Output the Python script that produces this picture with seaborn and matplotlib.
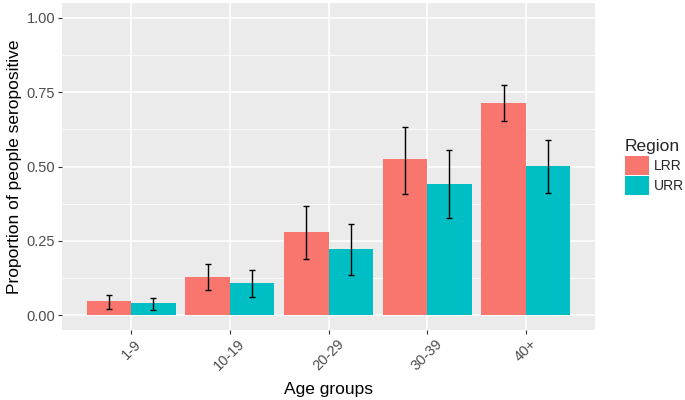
import pandas as pd
import numpy as np
import seaborn as sns
import matplotlib.pyplot as plt

age_groups = ["1-9", "10-19", "20-29", "30-39", "40+"]
regions = ["LRR", "URR"]
lrr_prop = [0.047, 0.128, 0.279, 0.525, 0.714]
lrr_low = [0.022, 0.084, 0.189, 0.408, 0.653]
lrr_high = [0.067, 0.172, 0.367, 0.633, 0.774]
urr_prop = [0.040, 0.108, 0.222, 0.441, 0.502]
urr_low = [0.017, 0.061, 0.135, 0.327, 0.410]
urr_high = [0.057, 0.152, 0.306, 0.556, 0.589]

df = pd.DataFrame({
    "age": age_groups * 2,
    "Region": ["LRR"] * 5 + ["URR"] * 5,
    "prop": lrr_prop + urr_prop,
    "low": lrr_low + urr_low,
    "high": lrr_high + urr_high,
})

sns.set_style("darkgrid", {"axes.facecolor": "#EBEBEB", "grid.color": "white"})
plt.rcParams["font.family"] = ["Liberation Sans", "DejaVu Sans"]

fig = plt.figure(figsize=(6.85, 4.0), dpi=100)
ax = fig.add_axes([62 / 685, 1 - 330 / 400, (595 - 62) / 685, 327 / 400])

sns.barplot(data=df, x="age", y="prop", hue="Region", order=age_groups,
            hue_order=regions, palette=["#F8766D", "#00BFC4"], width=0.9,
            saturation=1, errorbar=None, linewidth=0, ax=ax)

# error bars at the centre of each drawn bar
for cont, reg in zip(ax.containers, regions):
    sub = df[df["Region"] == reg].set_index("age").loc[age_groups]
    xs = [p.get_x() + p.get_width() / 2 for p in cont.patches]
    ax.errorbar(xs, sub["prop"], yerr=[sub["prop"] - sub["low"], sub["high"] - sub["prop"]],
                fmt="none", ecolor="black", elinewidth=1.0, capsize=2.5, capthick=1.0)

ax.set_xlim(-0.7, 4.7)
ax.set_ylim(-0.05, 1.05)
ax.set_yticks([0, 0.25, 0.5, 0.75, 1.0])
ax.set_yticklabels(["0.00", "0.25", "0.50", "0.75", "1.00"])
ax.set_yticks([0.125, 0.375, 0.625, 0.875], minor=True)
ax.xaxis.grid(True, color="white", linewidth=1.1)
ax.yaxis.grid(True, which="major", color="white", linewidth=1.1)
ax.yaxis.grid(True, which="minor", color="white", linewidth=0.55)
ax.set_axisbelow(True)
for s in ax.spines.values():
    s.set_visible(False)

ax.tick_params(axis="both", which="major", length=3, width=0.8, color="#333333",
               labelcolor="#4D4D4D", labelsize=10.5, pad=2, bottom=True, left=True)
ax.tick_params(axis="y", which="minor", length=0)
plt.setp(ax.get_xticklabels(), rotation=45, ha="center")

ax.set_xlabel("Age groups", fontsize=12.5, color="black", labelpad=6)
ax.set_ylabel("Proportion of people seropositive", fontsize=12.5, color="black", labelpad=3)

ax.legend(title="Region", loc="center left", bbox_to_anchor=(618 / 685, 1 - 167 / 400),
          bbox_transform=fig.transFigure, frameon=False, fontsize=10, title_fontsize=12.5,
          handlelength=1.7, handleheight=1.7, labelspacing=0.12, handletextpad=0.35,
          borderpad=0, alignment="left")

plt.savefig("out.png", dpi=100)
